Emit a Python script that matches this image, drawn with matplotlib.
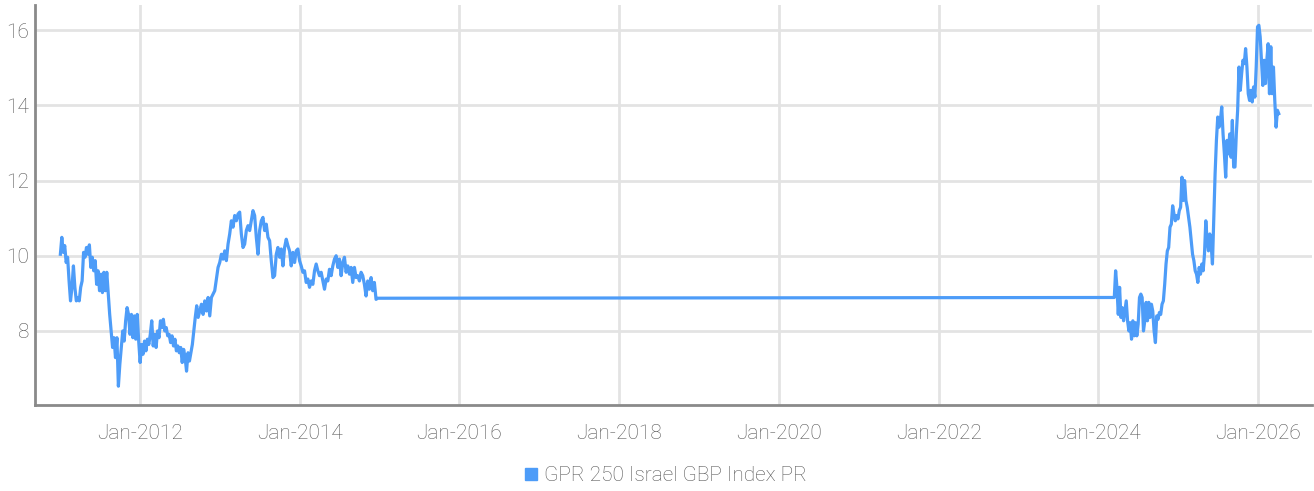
import matplotlib
matplotlib.use("Agg")
import matplotlib.pyplot as plt
import matplotlib.dates as mdates
from matplotlib.lines import Line2D
import pandas as pd

plt.rcParams['font.family'] = ['Roboto', 'DejaVu Sans']
plt.rcParams['font.weight'] = 'light'

series_name = "GPR 250 Israel GBP Index PR"

# prices Jan-2011 .. Sep-2012
part1_start = "2011-01-03"
part1_end = "2012-09-24"
part1_vals = [
    10.04, 10.49, 10.09, 10.27, 9.82, 9.96, 9.33, 8.80, 9.16, 9.73,
    9.16, 8.80, 8.89, 8.80, 9.16, 9.33, 10.09, 9.96, 10.22, 10.04,
    10.29, 9.69, 9.96, 9.60, 9.87, 9.24, 9.60, 9.07, 9.51, 9.02,
    9.56, 9.07, 9.56, 8.98, 8.44, 8.00, 7.56, 7.82, 7.29, 7.82,
    6.53, 7.11, 7.56, 8.00, 7.73, 8.27, 8.62, 8.44, 7.91, 8.44,
    7.82, 8.40, 7.78, 8.44, 7.73, 7.16, 7.64, 7.38, 7.73, 7.47,
    7.78, 7.64, 7.91, 8.27, 7.60, 7.91, 7.56, 8.00, 7.82, 8.27,
    8.09, 8.31, 8.00, 8.09, 7.87, 7.91, 7.69, 7.87, 7.60, 7.78,
    7.47, 7.60, 7.42, 7.56, 7.16, 7.51, 7.29, 6.93, 7.42, 7.20,
    7.42, 7.64, 8.00, 8.36, 8.67, 8.36,
]

# prices Oct-2012 .. Dec-2014
part2_start = "2012-10-09"
part2_end = "2014-12-24"
part2_vals = [
    8.71, 8.44, 8.80, 8.53, 8.89, 8.40, 8.89, 8.98, 9.07, 9.38,
    9.69, 9.82, 10.04, 9.91, 10.13, 9.87, 10.31, 10.58, 10.93, 10.76,
    11.07, 10.93, 11.11, 11.16, 10.58, 10.22, 10.31, 10.67, 10.80, 10.67,
    10.93, 11.20, 11.07, 10.49, 10.04, 10.67, 10.93, 11.02, 10.67, 10.84,
    10.49, 10.40, 9.87, 9.42, 9.47, 10.04, 10.22, 9.96, 10.18, 9.73,
    10.22, 10.44, 10.27, 10.13, 9.73, 10.09, 9.82, 10.13, 10.18, 9.87,
    9.73, 9.56, 9.60, 9.29, 9.38, 9.16, 9.33, 9.24, 9.60, 9.78,
    9.60, 9.47, 9.56, 9.33, 9.11, 9.38, 9.33, 9.64, 9.47, 9.73,
    9.91, 10.00, 9.69, 9.91, 9.47, 9.82, 9.96, 9.56, 9.73, 9.51,
    9.69, 9.29, 9.69, 9.42, 9.47, 9.33, 9.56, 9.47, 9.24, 8.93,
    9.33, 9.11, 9.42, 9.07, 9.29, 8.84, 8.87,
]

# prices Mar-2024 .. Apr-2026 (flat line joins the gap)
part3_start = "2024-03-14"
part3_end = "2026-04-05"
part3_vals = [
    8.89, 9.60, 9.16, 8.44, 9.16, 8.36, 8.62, 8.27, 8.53, 8.80,
    8.27, 8.00, 8.22, 7.78, 8.27, 7.87, 8.22, 7.87, 8.18, 8.89,
    8.98, 8.89, 8.00, 8.27, 8.76, 8.27, 8.76, 8.36, 8.71, 8.53,
    8.00, 7.69, 8.40, 8.31, 8.49, 8.44, 8.71, 8.80, 9.24, 9.78,
    10.13, 10.22, 10.76, 10.84, 11.33, 11.11, 10.93, 11.07, 10.98, 11.20,
    11.29, 12.09, 11.47, 12.00, 11.47, 11.29, 11.02, 10.76, 10.40, 10.04,
    9.87, 9.60, 9.51, 9.29, 9.69, 9.51, 9.78, 9.60, 10.04, 10.93,
    10.40, 10.13, 10.58, 10.31, 9.78, 11.02, 12.18, 13.07, 13.69, 13.42,
    13.60, 13.96, 13.24, 12.71, 12.09, 13.07, 12.71, 13.24, 12.62, 13.60,
    12.36, 12.36, 13.24, 13.87, 15.02, 14.40, 14.84, 15.20, 15.11, 15.51,
    15.02, 14.31, 14.13, 14.40, 14.09, 14.49, 14.22, 15.02, 16.09, 16.13,
    15.82, 15.20, 14.53, 15.20, 14.58, 15.20, 15.64, 14.31, 15.56, 14.31,
    15.02, 14.13, 13.42, 13.87, 13.78,
]

tick_years = [2012, 2014, 2016, 2018, 2020, 2022, 2024, 2026]

dates = []
vals = []
for start, end, v in [(part1_start, part1_end, part1_vals),
                      (part2_start, part2_end, part2_vals),
                      (part3_start, part3_end, part3_vals)]:
    dates += list(pd.date_range(start, end, periods=len(v)))
    vals += v

blue = "#4d9cf8"
grid_c = "#e3e3e3"
txt_c = "#555555"

fig = plt.figure(figsize=(13.14, 4.91), dpi=100)
ax = fig.add_axes([35/1314, 86/491, 1 - 35/1314 - 2/1314, 400/491])

ax.plot(dates, vals, color=blue, lw=2.3, solid_joinstyle="round")

ax.set_xlim(pd.Timestamp("2010-09-09"), pd.Timestamp("2026-09-04"))
ax.set_ylim(6.03, 16.67)
ax.set_yticks([8, 10, 12, 14, 16])
ax.set_xticks([pd.Timestamp(f"{y}-01-01") for y in tick_years])
ax.xaxis.set_major_formatter(mdates.DateFormatter("%b-%Y"))

ax.grid(True, color=grid_c, lw=2)
ax.set_axisbelow(True)
for s in ["top", "right"]:
    ax.spines[s].set_visible(False)
for s in ["left", "bottom"]:
    ax.spines[s].set_color("#8a8a8a")
    ax.spines[s].set_linewidth(2)

ax.tick_params(axis="both", length=0, labelsize=15, labelcolor=txt_c)
ax.tick_params(axis="x", pad=14)
ax.tick_params(axis="y", pad=4)

handle = Line2D([], [], marker="s", color=blue, ls="none", markersize=8)
fig.legend([handle], [series_name], loc="center", bbox_to_anchor=(0.505, 0.031),
           frameon=False, fontsize=15, labelcolor=txt_c, handletextpad=0.1,
           handlelength=1.0)

fig.savefig("out.png", dpi=100)
